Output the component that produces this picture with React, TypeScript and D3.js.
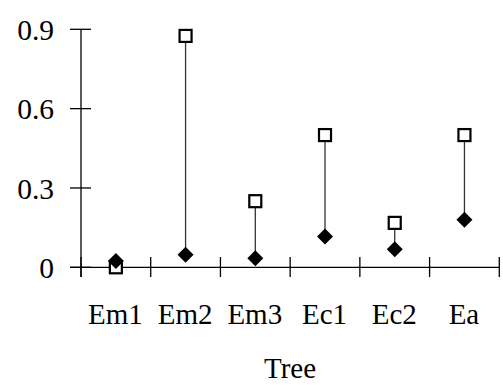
import React from "react";
import * as d3 from "d3";

const categories = ["Em1", "Em2", "Em3", "Ec1", "Ec2", "Ea"];
const squareValues = [0.0, 0.875, 0.25, 0.5, 0.168, 0.5];
const diamondValues = [0.024, 0.047, 0.034, 0.116, 0.068, 0.18];
const yTicks = [0, 0.3, 0.6, 0.9];
const yTickLabels = ["0", "0.3", "0.6", "0.9"];
const xTitle = "Tree";

export default function App() {
  const W = 503, H = 385;
  const x = d3.scaleBand<string>().domain(categories).range([81, 499.3]).padding(0);
  const y = d3.scaleLinear().domain([0, 0.9]).range([267.3, 29.3]);
  const font = "'Liberation Serif', 'Times New Roman', serif";
  const cx = (c: string) => (x(c) as number) + x.bandwidth() / 2;
  const bounds = [...categories.map((c) => x(c) as number), 499.3];
  return (
    <svg width={W} height={H} style={{ position: "absolute", left: 0, top: 0 }}>
      <rect width={W} height={H} fill="#fff" />
      {/* axes */}
      <line x1={81} x2={81} y1={y(0.9)} y2={277} stroke="#000" strokeWidth={1.3} />
      <line x1={70} x2={499.5} y1={y(0)} y2={y(0)} stroke="#000" strokeWidth={1.3} />
      {yTicks.map((t, i) => (
        <g key={t}>
          <line x1={70} x2={91} y1={y(t)} y2={y(t)} stroke="#000" strokeWidth={1.3} />
          <text x={54} y={y(t) + 10.7} textAnchor="end" fontFamily={font} fontSize={29.5} fill="#000">
            {yTickLabels[i]}
          </text>
        </g>
      ))}
      {bounds.map((b, i) => (
        <line key={i} x1={b} x2={b} y1={257} y2={277} stroke="#000" strokeWidth={1.3} />
      ))}
      {categories.map((c) => (
        <text key={c} x={cx(c) - 0.5} y={324} textAnchor="middle" fontFamily={font} fontSize={29} fill="#000">
          {c}
        </text>
      ))}
      <text x={290} y={378.3} textAnchor="middle" fontFamily={font} fontSize={29} fill="#000">
        {xTitle}
      </text>
      {/* hi-lo lines */}
      {categories.map((c, i) => (
        <line key={"l" + c} x1={cx(c)} x2={cx(c)} y1={y(diamondValues[i])} y2={y(squareValues[i])} stroke="#333" strokeWidth={1.3} />
      ))}
      {/* squares */}
      {categories.map((c, i) => (
        <rect key={"s" + c} x={cx(c) - 6} y={y(squareValues[i]) - 6} width={12} height={12} fill="#fff" stroke="#000" strokeWidth={2.2} />
      ))}
      {/* diamonds */}
      {categories.map((c, i) => {
        const px = cx(c), py = y(diamondValues[i]), r = 8;
        return (
          <path key={"d" + c} d={`M${px},${py - r}L${px + r},${py}L${px},${py + r}L${px - r},${py}Z`} fill="#000" />
        );
      })}
    </svg>
  );
}
